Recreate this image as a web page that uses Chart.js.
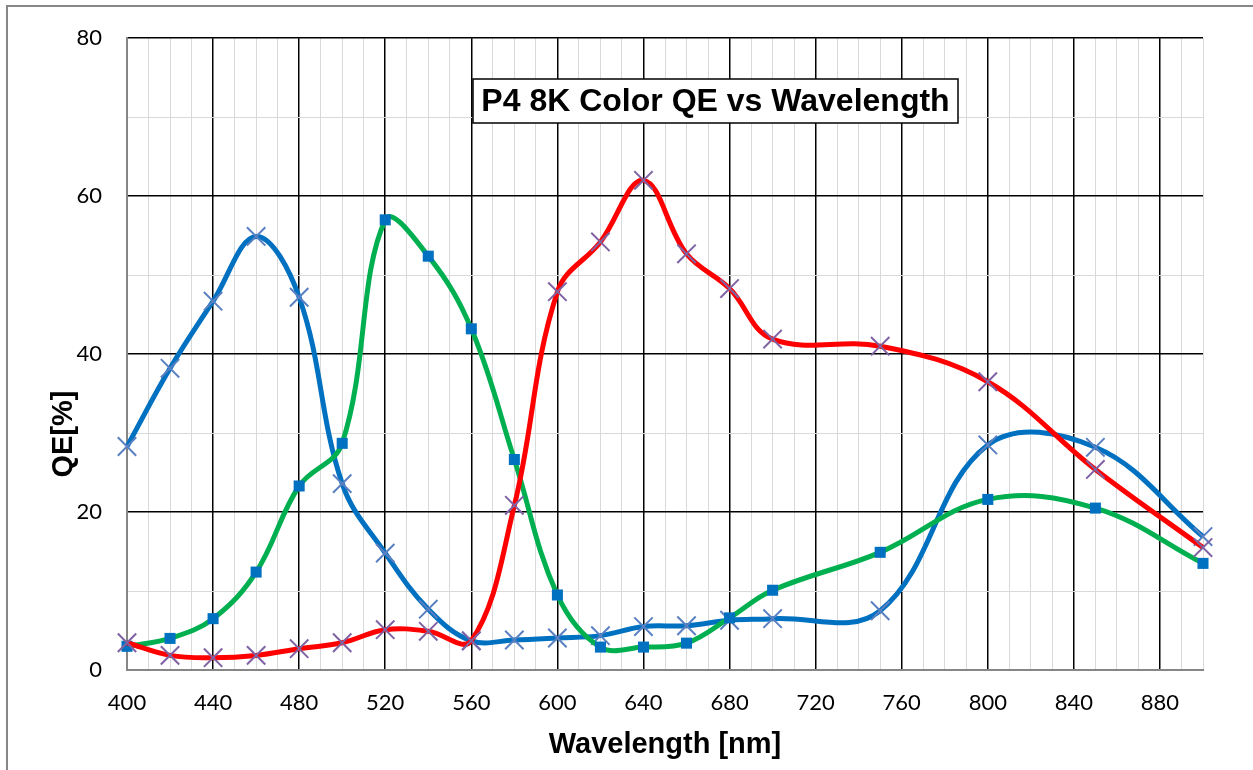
<!DOCTYPE html>
<html>
<head>
<meta charset="utf-8">
<title>P4 8K Color QE vs Wavelength</title>
<script src="https://cdn.jsdelivr.net/npm/chart.js@4/dist/chart.umd.min.js"></script>
<style>
  html, body { margin: 0; padding: 0; background: #fff; }
  #wrap { width: 1253px; height: 770px; }
</style>
</head>
<body>
<div id="wrap"><canvas id="qeChart" width="1253" height="770"></canvas></div>
<script>
// ---------- Data ----------
const wavelengths = [400, 420, 440, 460, 480, 500, 520, 540, 560, 580, 600, 620, 640, 660, 680, 700, 750, 800, 850, 900];
const blueQE  = [28.3, 38.2, 46.7, 54.9, 47.2, 23.6, 14.8, 7.7, 3.7, 3.8, 4.05, 4.35, 5.5, 5.6, 6.3, 6.5, 7.5, 28.5, 28.2, 16.9];
const greenQE = [3.0, 4.0, 6.5, 12.4, 23.3, 28.7, 57.0, 52.4, 43.2, 26.65, 9.5, 2.9, 2.9, 3.4, 6.6, 10.1, 14.9, 21.6, 20.5, 13.5];
const redQE   = [3.45, 1.85, 1.56, 1.85, 2.7, 3.45, 5.1, 4.9, 3.7, 20.85, 47.9, 54.2, 62.0, 52.7, 48.3, 41.9, 41.0, 36.5, 25.4, 15.5];
const xTickLabels = [400, 440, 480, 520, 560, 600, 640, 680, 720, 760, 800, 840, 880];
const yTickLabels = [0, 20, 40, 60, 80];
const minorStep = 10;   // light grid every 10 on both axes

const chartTitle = "P4 8K Color QE vs Wavelength";
const xTitle = "Wavelength [nm]";
const yTitle = "QE[%]";

function toPoints(values) {
    return wavelengths.map((w, i) => ({ x: w, y: values[i] }));
}

// one tick per minor grid line
function minorTicks(scale) {
    const ticks = [];
    for (let v = scale.min; v <= scale.max; v += minorStep) ticks.push({ value: v });
    scale.ticks = ticks;
}

// ---------- Extra drawing: frame, title box, y title ----------
const decorations = {
    id: "decorations",
    beforeDraw(chart) {
        const ctx = chart.ctx;
        ctx.save();
        ctx.fillStyle = "#fff";
        ctx.fillRect(0, 0, chart.width, chart.height);
        ctx.strokeStyle = "#878787";
        ctx.lineWidth = 2;
        ctx.beginPath();
        ctx.moveTo(7, chart.height);
        ctx.lineTo(7, 6);
        ctx.lineTo(chart.width, 6);
        ctx.stroke();
        ctx.restore();
    },
    afterDraw(chart) {
        const ctx = chart.ctx;
        ctx.save();
        // title box inside the plot
        ctx.fillStyle = "#fff";
        ctx.fillRect(473, 79, 485, 44);
        ctx.strokeStyle = "#000";
        ctx.lineWidth = 1.5;
        ctx.strokeRect(473, 79, 485, 44);
        ctx.fillStyle = "#000";
        ctx.font = "bold 32px 'Liberation Sans', Arial, sans-serif";
        ctx.textAlign = "center";
        ctx.textBaseline = "middle";
        ctx.fillText(chartTitle, 715.5, 102);
        // y axis title
        ctx.translate(62.5, 434);
        ctx.rotate(-Math.PI / 2);
        ctx.font = "bold 29px 'Liberation Sans', Arial, sans-serif";
        ctx.fillText(yTitle, 0, 1);
        ctx.restore();
    }
};

function makeSet(label, values, lineColor, style) {
    return Object.assign({
        label: label,
        data: toPoints(values),
        borderColor: lineColor,
        borderWidth: 5,
        tension: 0.38,
        fill: false,
        clip: false
    }, style);
}

const ctx = document.getElementById("qeChart").getContext("2d");
new Chart(ctx, {
    type: "line",
    data: {
        datasets: [
            makeSet("Red", redQE, "#ff0000", {
                pointStyle: "crossRot", pointRadius: 13, pointBorderWidth: 2,
                pointBorderColor: "#7f62a3", pointBackgroundColor: "rgba(0,0,0,0)"
            }),
            makeSet("Green", greenQE, "#00b050", {
                pointStyle: "rect", pointRadius: 7.8, pointBorderWidth: 0,
                pointBorderColor: "#0070c0", pointBackgroundColor: "#0070c0"
            }),
            makeSet("Blue", blueQE, "#0070c0", {
                pointStyle: "crossRot", pointRadius: 13, pointBorderWidth: 2,
                pointBorderColor: "#5a80c2", pointBackgroundColor: "rgba(0,0,0,0)"
            })
        ]
    },
    options: {
        responsive: false,
        animation: false,
        devicePixelRatio: 1,
        layout: { padding: { left: 0, top: 37, right: 50, bottom: 0 } },
        plugins: { legend: { display: false }, tooltip: { enabled: false }, title: { display: false } },
        scales: {
            x: {
                type: "linear",
                min: 400,
                max: 900,
                afterBuildTicks: minorTicks,
                afterFit(scale) { scale.height = 100; },
                ticks: {
                    autoSkip: false,
                    maxRotation: 0,
                    padding: 20,
                    color: "#000",
                    font: { family: "Lato", size: 22 },
                    callback: (v) => xTickLabels.includes(v) ? String(v) : ""
                },
                grid: {
                    drawTicks: false,
                    lineWidth: (c) => (xTickLabels.includes(c.tick.value) && c.tick.value !== 400) ? 1.5 : 1,
                    color: (c) => (xTickLabels.includes(c.tick.value) && c.tick.value !== 400) ? "#000" : "#d9d9d9"
                },
                border: { display: true, color: "#868686", width: 2 },
                title: {
                    display: true,
                    text: xTitle,
                    color: "#000",
                    font: { family: "'Liberation Sans', Arial, sans-serif", size: 29, weight: "bold" },
                    padding: { top: 0, bottom: 8 }
                }
            },
            y: {
                min: 0,
                max: 80,
                afterBuildTicks: minorTicks,
                afterFit(scale) { scale.width = 127; },
                ticks: {
                    autoSkip: false,
                    padding: 25,
                    color: "#000",
                    font: { family: "Lato", size: 22 },
                    callback: (v) => yTickLabels.includes(v) ? String(v) : ""
                },
                grid: {
                    drawTicks: false,
                    lineWidth: (c) => (yTickLabels.includes(c.tick.value) && c.tick.value !== 0) ? 1.5 : 1,
                    color: (c) => (yTickLabels.includes(c.tick.value) && c.tick.value !== 0) ? "#000" : "#d9d9d9"
                },
                border: { display: true, color: "#868686", width: 2 }
            }
        }
    },
    plugins: [decorations]
});
</script>
</body>
</html>
